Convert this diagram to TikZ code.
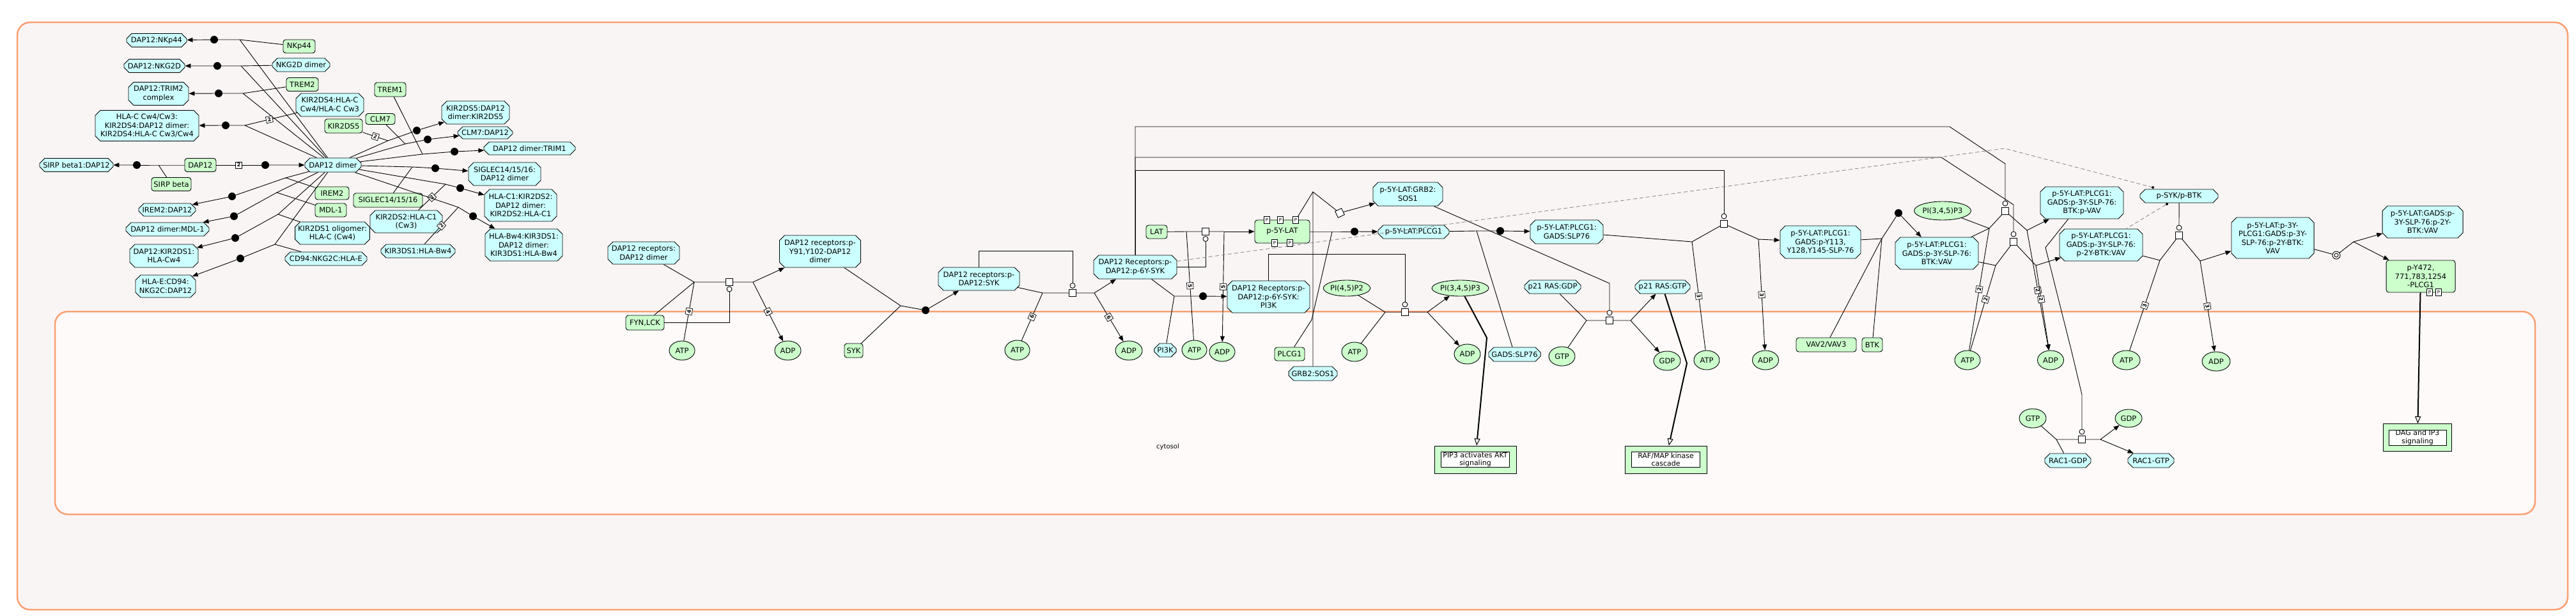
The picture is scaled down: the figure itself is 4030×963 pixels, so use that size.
\documentclass[tikz,border=0pt]{standalone}
\usepackage{fontspec}
\setmainfont{DejaVu Sans}
\usetikzlibrary{shapes.misc,shapes.geometric,arrows.meta,calc}
\definecolor{cyanF}{RGB}{204,255,255}
\definecolor{greenF}{RGB}{204,255,204}
\definecolor{compB}{RGB}{250,160,115}
\definecolor{outerF}{RGB}{250,245,245}
\definecolor{innerF}{RGB}{253,250,249}
\newcommand{\nodefnt}{\fontsize{11.5}{13.5}\selectfont}
\tikzset{
 base/.style={draw, line width=0.9pt, inner sep=0.5pt, align=center, font=\nodefnt},
 cx/.style={base, chamfered rectangle, chamfered rectangle xsep=4pt, chamfered rectangle ysep=4pt, fill=cyanF},
 pr/.style={base, rectangle, rounded corners=4pt, fill=greenF},
 sm/.style={base, ellipse, fill=greenF, inner sep=0pt},
 ln/.style={line width=0.9pt},
 arr/.style={line width=0.9pt, -{Triangle[length=9pt,width=7pt]}},
 tarr/.style={line width=2pt, -{Triangle[open,length=11pt,width=9pt,line width=1pt]}},
 rdot/.style={circle, fill=black, inner sep=0pt, minimum size=12pt},
 tsq/.style={draw, fill=white, rectangle, inner sep=0pt, minimum size=11pt, line width=0.9pt},
 cat/.style={draw, fill=white, circle, inner sep=0pt, minimum size=8pt, line width=0.9pt},
 st/.style={draw, fill=white, rectangle, inner sep=0.5pt, minimum size=10pt, font=\fontsize{8}{8}\selectfont\bfseries, line width=0.7pt},
 pb/.style={draw, fill=white, rectangle, inner sep=0pt, minimum width=9pt, minimum height=11pt, font=\fontsize{7}{7}\selectfont, line width=0.7pt},
 pathbox/.style={draw, fill=greenF, rectangle, line width=1pt},
 pathin/.style={draw, fill=white, rectangle, inner sep=0pt, line width=0.7pt},
 pathtxt/.style={align=center, font=\fontsize{11}{12.5}\selectfont, inner sep=0pt},
 dsh/.style={gray, line width=0.8pt, dash pattern=on 6pt off 4pt},
 sdot/.style={circle, fill=black, inner sep=0pt, minimum size=4pt},
}
\begin{document}
\begin{tikzpicture}[x=1pt,y=-1pt]
\useasboundingbox (0,0) rectangle (4030,963);
\draw[compB, line width=2.5pt, fill=outerF, rounded corners=20pt] (27,35) rectangle (4017,953);
\draw[compB, line width=2.5pt, fill=innerF, rounded corners=20pt] (86,487) rectangle (3966,804);
\node[font=\fontsize{10}{12}\selectfont] (cyt) at (1827,699) {cytosol};

% ---------- left cluster nodes
\node[cx,minimum width=94pt,minimum height=21pt] (N1) at (245,63) {DAP12:NKp44};
\node[cx,minimum width=95pt,minimum height=21pt] (N2) at (241.5,103) {DAP12:NKG2D};
\node[cx,minimum width=94pt,minimum height=36pt] (N3) at (248,146.5) {DAP12:TRIM2\\complex};
\node[cx,minimum width=162pt,minimum height=48pt] (N4) at (230,196.5) {HLA-C Cw4/Cw3:\\KIR2DS4:DAP12 dimer:\\KIR2DS4:HLA-C Cw3/Cw4};
\node[cx,minimum width=115pt,minimum height=21pt] (N5) at (119.5,258) {SIRP beta1:DAP12};
\node[pr,minimum width=49pt,minimum height=21pt] (N6) at (313.5,258) {DAP12};
\node[pr,minimum width=50pt,minimum height=21pt] (N7) at (468,72.5) {NKp44};
\node[cx,minimum width=90pt,minimum height=21pt] (N8) at (471,101.5) {NKG2D dimer};
\node[pr,minimum width=50pt,minimum height=21pt] (N9) at (473,132) {TREM2};
\node[cx,minimum width=106pt,minimum height=36pt] (N10) at (516,164) {KIR2DS4:HLA-C\\Cw4/HLA-C Cw3};
\node[pr,minimum width=62pt,minimum height=21pt] (N11) at (268,288) {SIRP beta};
\node[cx,minimum width=88pt,minimum height=22pt] (N12) at (521,258) {DAP12 dimer};
\node[pr,minimum width=49pt,minimum height=22pt] (N13) at (610.5,140) {TREM1};
\node[pr,minimum width=46pt,minimum height=17pt] (N14) at (595,186) {CLM7};
\node[pr,minimum width=59pt,minimum height=22pt] (N15) at (537.5,197) {KIR2DS5};
\node[cx,minimum width=106pt,minimum height=36pt] (N16) at (744,176) {KIR2DS5:DAP12\\dimer:KIR2DS5};
\node[cx,minimum width=86pt,minimum height=19pt] (N17) at (759,207.5) {CLM7:DAP12};
\node[cx,minimum width=143pt,minimum height=20pt] (N18) at (828.5,232) {DAP12 dimer:TRIM1};
\node[cx,minimum width=113pt,minimum height=36pt] (N19) at (789.5,272) {SIGLEC14/15/16:\\DAP12 dimer};
\node[cx,minimum width=113pt,minimum height=50pt] (N20) at (814.5,321) {HLA-C1:KIR2DS2:\\DAP12 dimer:\\KIR2DS2:HLA-C1};
\node[cx,minimum width=121pt,minimum height=50pt] (N21) at (819.5,383) {HLA-Bw4:KIR3DS1:\\DAP12 dimer:\\KIR3DS1:HLA-Bw4};
\node[pr,minimum width=108pt,minimum height=22pt] (N22) at (607,313) {SIGLEC14/15/16};
\node[cx,minimum width=113pt,minimum height=35pt] (N23) at (635.5,346.5) {KIR2DS2:HLA-C1\\(Cw3)};
\node[cx,minimum width=116pt,minimum height=21pt] (N24) at (654,392.5) {KIR3DS1:HLA-Bw4};
\node[cx,minimum width=116pt,minimum height=35pt] (N25) at (520,364.5) {KIR2DS1 oligomer:\\HLA-C (Cw4)};
\node[cx,minimum width=128pt,minimum height=21pt] (N26) at (510,404.5) {CD94:NKG2C:HLA-E};
\node[pr,minimum width=53pt,minimum height=20pt] (N27) at (519.5,302) {IREM2};
\node[pr,minimum width=49pt,minimum height=21pt] (N28) at (517.5,328.5) {MDL-1};
\node[cx,minimum width=89pt,minimum height=20pt] (N29) at (261.5,328) {IREM2:DAP12};
\node[cx,minimum width=130pt,minimum height=21pt] (N30) at (262,358.5) {DAP12 dimer:MDL-1};
\node[cx,minimum width=107pt,minimum height=36pt] (N31) at (256.5,400) {DAP12:KIR2DS1:\\HLA-Cw4};
\node[cx,minimum width=94pt,minimum height=35pt] (N32) at (259,447.5) {HLA-E:CD94:\\NKG2C:DAP12};

% ---------- middle nodes
\node[cx,minimum width=112pt,minimum height=35pt] (M1) at (1007,395.5) {DAP12 receptors:\\DAP12 dimer};
\node[cx,minimum width=127pt,minimum height=50pt] (M2) at (1283,393) {DAP12 receptors:p-\\Y91,Y102-DAP12\\dimer};
\node[pr,minimum width=60pt,minimum height=23pt] (M3) at (1009,504.5) {FYN,LCK};
\node[sm,minimum width=40pt,minimum height=30pt] (M4) at (1067,548) {ATP};
\node[sm,minimum width=41pt,minimum height=30pt] (M5) at (1232.5,548) {ADP};
\node[pr,minimum width=29pt,minimum height=22pt] (M6) at (1335.5,548) {SYK};
\node[cx,minimum width=127pt,minimum height=36pt] (M7) at (1531.5,436) {DAP12 receptors:p-\\DAP12:SYK};
\node[cx,minimum width=130pt,minimum height=37pt] (M8) at (1776,417.5) {DAP12 Receptors:p-\\DAP12:p-6Y-SYK};
\node[sm,minimum width=39pt,minimum height=31pt] (M9) at (1591.5,547.5) {ATP};
\node[sm,minimum width=42pt,minimum height=30pt] (M10) at (1766,548) {ADP};
\node[pr,minimum width=33pt,minimum height=21pt] (M11) at (1809.5,362.5) {LAT};
\node[pr,minimum width=86pt,minimum height=36pt] (M12) at (2006,362) {p-5Y-LAT};
\node[pb] (P1) at (1982,344) {P};
\node[pb] (P2) at (2003,344) {P};
\node[pb] (P3) at (2027,344) {P};
\node[pb] (P4) at (1994,380) {P};
\node[pb] (P5) at (2018,380) {P};
\node[cx,minimum width=129pt,minimum height=50pt] (M13) at (1984.5,464) {DAP12 Receptors:p-\\DAP12:p-6Y-SYK:\\PI3K};
\node[cx,minimum width=34pt,minimum height=21pt] (M14) at (1823,547.5) {PI3K};
\node[sm,minimum width=39pt,minimum height=30pt] (M15) at (1868.5,547) {ATP};
\node[sm,minimum width=40pt,minimum height=30pt] (M16) at (1912,550) {ADP};
\node[pr,minimum width=47pt,minimum height=21pt] (M17) at (2017.5,553.5) {PLCG1};
\node[cx,minimum width=74pt,minimum height=22pt] (M18) at (2054,584) {GRB2:SOS1};
\node[cx,minimum width=109pt,minimum height=37pt] (M19) at (2202.5,303.5) {p-5Y-LAT:GRB2:\\SOS1};
\node[cx,minimum width=111pt,minimum height=21pt] (M20) at (2211.5,362.5) {p-5Y-LAT:PLCG1};
\node[cx,minimum width=114pt,minimum height=37pt] (M21) at (2451,362.5) {p-5Y-LAT:PLCG1:\\GADS:SLP76};
\node[sm,minimum width=70pt,minimum height=25pt] (M22) at (2107,450.5) {PI(4,5)P2};
\node[sm,minimum width=40pt,minimum height=30pt] (M23) at (2119,550) {ATP};
\node[sm,minimum width=81pt,minimum height=25pt] (M24) at (2284.5,450.5) {PI(3,4,5)P3};
\node[sm,minimum width=41pt,minimum height=31pt] (M25) at (2295.5,553.5) {ADP};
\node[cx,minimum width=81pt,minimum height=22pt] (M26) at (2369.5,554) {GADS:SLP76};
\node[cx,minimum width=88pt,minimum height=21pt] (M27) at (2429,448.5) {p21 RAS:GDP};
\node[sm,minimum width=41pt,minimum height=30pt] (M28) at (2443.5,557) {GTP};
\node[cx,minimum width=86pt,minimum height=21pt] (M29) at (2601,448.5) {p21 RAS:GTP};
\node[sm,minimum width=42pt,minimum height=30pt] (M30) at (2608,564) {GDP};
\node[pathbox,minimum width=128pt,minimum height=43pt] (M31) at (2308,718.5) {};
\node[pathin,minimum width=107pt,minimum height=24pt] (M31i) at (M31) {};
\node[pathtxt] (M31t) at (M31) {PIP3 activates AKT\\signaling};
\node[pathbox,minimum width=128pt,minimum height=43pt] (M32) at (2606,718.5) {};
\node[pathin,minimum width=107pt,minimum height=24pt] (M32i) at (M32) {};
\node[pathtxt] (M32t) at (M32) {RAF/MAP kinase\\cascade};

% ---------- right nodes
\node[cx,minimum width=126pt,minimum height=51pt] (R1) at (2848,378.5) {p-5Y-LAT:PLCG1:\\GADS:p-Y113,\\Y128,Y145-SLP-76};
\node[sm,minimum width=40pt,minimum height=30pt] (R2) at (2670,563) {ATP};
\node[sm,minimum width=41pt,minimum height=30pt] (R3) at (2762,563) {ADP};
\node[sm,minimum width=80pt,minimum height=29pt] (R4) at (3039,329.5) {PI(3,4,5)P3};
\node[cx,minimum width=130pt,minimum height=50pt] (R5) at (3030,396) {p-5Y-LAT:PLCG1:\\GADS:p-3Y-SLP-76:\\BTK:VAV};
\node[pr,minimum width=94pt,minimum height=22pt] (R6) at (2857,539) {VAV2/VAV3};
\node[pr,minimum width=32pt,minimum height=22pt] (R7) at (2929,539) {BTK};
\node[cx,minimum width=130pt,minimum height=50pt] (R8) at (3257,317) {p-5Y-LAT:PLCG1:\\GADS:p-3Y-SLP-76:\\BTK:p-VAV};
\node[cx,minimum width=130pt,minimum height=50pt] (R9) at (3287,383) {p-5Y-LAT:PLCG1:\\GADS:p-3Y-SLP-76:\\p-2Y-BTK:VAV};
\node[sm,minimum width=40pt,minimum height=30pt] (R10) at (3078,563) {ATP};
\node[sm,minimum width=41pt,minimum height=30pt] (R11) at (3208,563) {ADP};
\node[cx,minimum width=122pt,minimum height=21pt] (R12) at (3409,306.5) {p-SYK/p-BTK};
\node[sm,minimum width=43pt,minimum height=30pt] (R13) at (3326.5,563) {ATP};
\node[sm,minimum width=44pt,minimum height=30pt] (R14) at (3467,565) {ADP};
\node[cx,minimum width=129pt,minimum height=64pt] (R15) at (3555.5,372) {p-5Y-LAT:p-3Y-\\PLCG1:GADS:p-3Y-\\SLP-76:p-2Y-BTK:\\VAV};
\node[cx,minimum width=126pt,minimum height=50pt] (R16) at (3790,347) {p-5Y-LAT:GADS:p-\\3Y-SLP-76:p-2Y-\\BTK:VAV};
\node[pr,minimum width=108pt,minimum height=50pt] (R17) at (3787,432) {p-Y472,\\771,783,1254\\-PLCG1};
\node[pb] (P6) at (3801,457) {P};
\node[pb] (P7) at (3815,457) {P};
\node[pathbox,minimum width=107pt,minimum height=43pt] (R18) at (3782,684) {};
\node[pathin,minimum width=90pt,minimum height=24pt] (R18i) at (R18) {};
\node[pathtxt] (R18t) at (R18) {DAG and IP3\\signaling};
\node[sm,minimum width=42pt,minimum height=30pt] (R19) at (3180,654) {GTP};
\node[sm,minimum width=42pt,minimum height=28pt] (R20) at (3330,654) {GDP};
\node[cx,minimum width=72pt,minimum height=22pt] (R21) at (3235,720) {RAC1-GDP};
\node[cx,minimum width=72pt,minimum height=22pt] (R22) at (3365,720) {RAC1-GTP};

% ---------- left reactions
\coordinate (jA) at (375,62);  \node[rdot] (dA) at (335,62) {};
\draw[ln] (N12) -- (jA) -- (dA); \draw[ln] (N7) -- (jA); \draw[arr] (dA) -- (N1);
\coordinate (jB) at (377,103); \node[rdot] (dB) at (340,103) {};
\draw[ln] (N12) -- (jB) -- (dB); \draw[ln] (N8) -- (jB); \draw[arr] (dB) -- (N2);
\coordinate (jC) at (380,146); \node[rdot] (dC) at (342,146) {};
\draw[ln] (N12) -- (jC) -- (dC); \draw[ln] (N9) -- (jC); \draw[arr] (dC) -- (N3);
\coordinate (jD) at (383,196); \node[rdot] (dD) at (353,196) {};
\draw[ln] (N12) -- (jD) -- (dD); \draw[ln] (N10) -- node[st,sloped,pos=0.53]{2} (jD); \draw[arr] (dD) -- (N4);
\coordinate (jE) at (248,258); \node[rdot] (dE) at (214,258) {};
\draw[ln] (N6) -- (jE) -- (dE); \draw[ln] (N11) -- (jE); \draw[arr] (dE) -- (N5);
\node[rdot] (dF) at (415,258) {};
\draw[ln] (N6) -- node[st]{2} (dF); \draw[arr] (dF) -- (N12);
\coordinate (jG) at (447,278); \node[rdot] (dG) at (363,307) {};
\draw[ln] (N12) -- (jG) -- (dG); \draw[ln] (N27) -- (jG); \draw[arr] (dG) -- (N29);
\coordinate (jH) at (433,301); \node[rdot] (dH) at (366,338) {};
\draw[ln] (N12) -- (jH) -- (dH); \draw[ln] (N28) -- (jH); \draw[arr] (dH) -- (N30);
\coordinate (jI) at (435,335); \node[rdot] (dI) at (368,372) {};
\draw[ln] (N12) -- (jI) -- (dI); \draw[ln] (N25) -- (jI); \draw[arr] (dI) -- (N31);
\coordinate (jJ) at (430,382); \node[rdot] (dJ) at (376,404) {};
\draw[ln] (N12) -- (jJ) -- (dJ); \draw[ln] (N26) -- (jJ); \draw[arr] (dJ) -- (N32);
\coordinate (jK) at (607,220); \node[rdot] (dK) at (652,204) {};
\draw[ln] (N12) -- (jK) -- (dK); \draw[ln] (N15) -- node[st,sloped]{2} (jK); \draw[arr] (dK) -- (N16);
\coordinate (jL) at (634,225); \node[rdot] (dL) at (669,218) {};
\draw[ln] (N12) -- (jL) -- (dL); \draw[ln] (N14) -- (jL); \draw[arr] (dL) -- (N17);
\coordinate (jM) at (661,241); \node[rdot] (dM) at (711,237) {};
\draw[ln] (N12) -- (jM) -- (dM); \draw[ln] (N13) -- (jM); \draw[arr] (dM) -- (N18);
\coordinate (jN) at (645,261); \node[rdot] (dN) at (681,263) {};
\draw[ln] (N12) -- (jN) -- (dN); \draw[ln] (N22) -- (jN); \draw[arr] (dN) -- (N19);
\coordinate (jO) at (697,288); \node[rdot] (dO) at (720,294) {};
\draw[ln] (N12) -- (jO) -- (dO); \draw[ln] (N23) -- node[st,sloped]{2} (jO); \draw[arr] (dO) -- (N20);
\coordinate (jP) at (717,324); \node[rdot] (dP) at (740,338) {};
\draw[ln] (N12) -- (jP) -- (dP); \draw[ln] (N24) -- node[st,sloped]{2} (jP); \draw[arr] (dP) -- (N21);

% ---------- middle reactions
\coordinate (jQ) at (1086,441); \node[tsq] (sQ) at (1141,441) {}; \coordinate (jQr) at (1178,441); \node[cat] (cQ) at (1141,452) {};
\draw[ln] (M1) -- (jQ) -- (sQ) -- (jQr); \draw[ln] (M3) -- (jQ);
\draw[ln] (M4) -- node[st,sloped]{4} (jQ);
\draw[arr] (jQr) -- (M2); \draw[arr] (jQr) -- node[st,sloped]{4} (M5);
\draw[ln] (M3) -| (cQ);

\coordinate (jR) at (1409,478); \node[rdot] (dR) at (1448,485) {};
\draw[ln] (M2) -- (jR) -- (dR); \draw[ln] (M6) -- (jR); \draw[arr] (dR) -- (M7);

\coordinate (jS) at (1631,458); \node[tsq] (sS) at (1678,458) {}; \coordinate (jSr) at (1712,458); \node[cat] (cS) at (1678,446.5) {};
\draw[ln] (M7) -- (jS) -- (sS) -- (jSr);
\draw[ln] (M9) -- node[st,sloped]{6} (jS);
\draw[arr] (jSr) -- (M8); \draw[arr] (jSr) -- node[st,sloped]{6} (M10);
\coordinate (kS) at (1678,392);
\draw[ln] (M7.north) |- (kS) -- (cS);

\coordinate (jT) at (1856,362); \node[tsq] (sT) at (1886,362) {}; \coordinate (jTr) at (1915,362); \node[cat] (cT) at (1886,373.5) {};
\draw[ln] (M11) -- (jT) -- (sT) -- (jTr);
\draw[ln] (M15) -- node[st,sloped]{5} (jT);
\draw[arr] (jTr) -- (M12); \draw[arr] (jTr) -- node[st,sloped]{5} (M16);
\draw[ln] (M8) -| (cT);

\coordinate (jU) at (1837,463); \node[rdot] (dU) at (1882,463) {};
\draw[ln] (M8) -- (jU) -- (dU); \draw[ln] (M14) -- (jU); \draw[arr] (dU) -- (M13);

\coordinate (jV) at (2054,300); \node[tsq,rotate=25] (sV) at (2096,333) {};
\draw[ln] (P3) -- (jV); \draw[ln] (M18) -- (jV) -- (sV); \draw[arr] (sV) -- (M19);

\coordinate (jW) at (2084,362); \node[rdot] (dW) at (2119,362) {};
\draw[ln] (M12) -- (jW) -- (dW); \draw[arr] (dW) -- (M20);
\draw[ln] (M17) -- (2052,500) -- (jW);

\coordinate (jX) at (2310,361); \node[rdot] (dX) at (2347,361) {};
\draw[ln] (M20) -- (jX) -- (dX); \draw[arr] (dX) -- (M21); \draw[ln] (M26) -- (jX);

\coordinate (jY) at (2167,488); \node[tsq] (sY) at (2198,488) {}; \coordinate (jYr) at (2233,488); \node[cat] (cY) at (2198,476) {};
\draw[ln] (M22) -- (jY) -- (sY) -- (jYr); \draw[ln] (M23) -- (jY);
\draw[arr] (jYr) -- (M24); \draw[arr] (jYr) -- (M25);
\coordinate (kY) at (2198,397);
\draw[ln] (M13.north) |- (kY) -- (cY);

\coordinate (jZ) at (2482,501); \node[tsq] (sZ) at (2518,501) {}; \coordinate (jZr) at (2551,501); \node[cat] (cZ) at (2518,489) {};
\draw[ln] (M27) -- (jZ) -- (sZ) -- (jZr); \draw[ln] (M28) -- (jZ);
\draw[arr] (jZr) -- (M29); \draw[arr] (jZr) -- (M30);
\draw[ln] (M19.-25) -- (2518,443) -- (cZ);

\draw[tarr] (M24) -- (2326,528) -- (M31);
\draw[tarr] (M29) -- (2639,568) -- (M32);

% ---------- right reactions
\coordinate (jAA) at (2647,378); \node[tsq] (sAA) at (2697,350) {}; \node[cat] (cAA) at (2697,338) {}; \coordinate (jAAr) at (2751,374);
\draw[ln] (M21) -- (jAA) -- (sAA) -- (jAAr);
\draw[ln] (R2) -- node[st,sloped]{3} (jAA);
\draw[arr] (jAAr) -- (R1); \draw[arr] (jAAr) -- node[st,sloped]{3} (R3);
\draw[ln] (M8.north) |- (2697,266) -- (cAA);

\coordinate (jBB) at (2944,373); \node[rdot] (dBB) at (2970,333) {};
\draw[ln] (R1) -- (jBB); \draw[ln] (R6) -- (jBB) -- (dBB); \draw[ln] (R7) -- (jBB); \draw[arr] (dBB) -- (R5);

\coordinate (jCC) at (3112,357); \node[tsq] (sCC) at (3137,330) {}; \node[cat] (cCC) at (3137,318) {}; \coordinate (jCCr) at (3171,360);
\draw[ln] (R5) -- (jCC) -- (sCC) -- (jCCr); \draw[ln] (R4) -- (jCC);
\draw[ln] (R10) -- node[st,sloped]{2} (jCC);
\draw[arr] (jCCr) -- (R8); \draw[arr] (jCCr) -- node[st,sloped]{2} (R11);
\draw[ln] (M8.north) |- (3050,198) -- (3137,256) -- (cCC);

\coordinate (jDD) at (3122,415); \node[tsq] (sDD) at (3150,378) {}; \node[cat] (cDD) at (3150,366) {}; \coordinate (jDDr) at (3185,415);
\draw[ln] (R5) -- (jDD) -- (sDD) -- (jDDr);
\draw[ln] (R10) -- node[st,sloped,pos=0.6]{2} (jDD);
\draw[arr] (jDDr) -- (R9); \draw[arr] (jDDr) -- node[st,sloped,pos=0.4]{2} (R11);
\draw[ln] (M8.north) |- (3037,246) -- (3150,320) -- (cDD);

\coordinate (jEE) at (3379,407); \node[tsq] (sEE) at (3409,368) {}; \node[cat] (cEE) at (3409,356) {}; \coordinate (jEEr) at (3442,408);
\draw[ln] (R9) -- (jEE) -- (sEE) -- (jEEr);
\draw[ln] (R13) -- node[st,sloped]{3} (jEE);
\draw[arr] (jEEr) -- (R15); \draw[arr] (jEEr) -- node[st,sloped]{3} (R14);
\draw[ln] (R12) -- (cEE);

\node[circle,draw,fill=white,minimum size=12pt,inner sep=0pt,line width=0.9pt] (dFF) at (3655,399) {};
\node[circle,draw,minimum size=6pt,inner sep=0pt,line width=0.9pt] (dFFi) at (dFF) {};
\coordinate (jFF) at (3682,378);
\draw[ln] (R15) -- (dFF) -- (jFF); \draw[arr] (jFF) -- (R16); \draw[arr] (jFF) -- (R17);
\draw[tarr] (R17) -- (R18);

\coordinate (jHH) at (3217,687); \node[tsq] (sHH) at (3257,687) {}; \node[cat] (cHH) at (3257,675) {}; \coordinate (jHHr) at (3286,687);
\draw[ln] (R19) -- (jHH) -- (sHH) -- (jHHr); \draw[ln] (R21) -- (jHH);
\draw[arr] (jHHr) -- (R20); \draw[arr] (jHHr) -- (R22);
\draw[ln] (R8.-130) -- (3200,387) -- (3241,550) -- (3257,617) -- (cHH);

% ---------- dashed set links
\node[sdot] (sd1) at (3368,293) {};
\node[sdot] (sd2) at (3390,319) {};
\draw[dsh] (M8.8) -- (3136,232) -- (sd1);
\draw[dsh] (sd2) -- (R9.33);
\end{tikzpicture}
\end{document}
